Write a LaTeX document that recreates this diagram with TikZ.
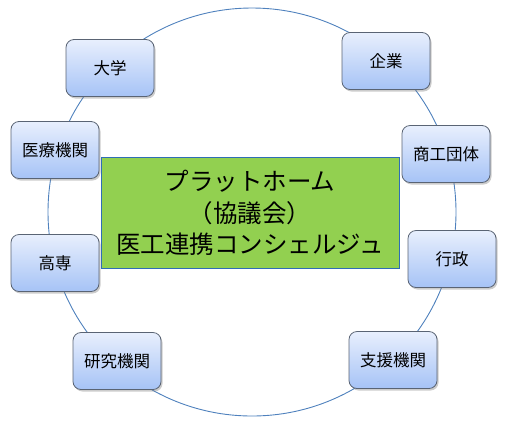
\documentclass[tikz,border=0pt]{standalone}
\usepackage{fontspec}
\newfontfamily\jpfont{Noto Sans CJK JP}
\usetikzlibrary{shadows}

\definecolor{ringblue}{HTML}{4F81BD}
\definecolor{boxtop}{HTML}{E8EFFD}
\definecolor{boxbottom}{HTML}{A6C3F6}
\definecolor{boxedge}{HTML}{5A6474}
\definecolor{platgreen}{HTML}{92D050}
\definecolor{platedge}{HTML}{2F6DB5}

\tikzset{
  member/.style={draw=boxedge, line width=0.8pt, rounded corners=8pt,
    top color=boxtop, bottom color=boxbottom,
    minimum width=88pt, minimum height=57pt,
    drop shadow={shadow xshift=1.5pt, shadow yshift=-2pt, opacity=0.4},
    font=\jpfont\fontsize{16.5}{19}\selectfont},
  platform/.style={draw=platedge, line width=0.8pt, fill=platgreen,
    minimum width=298pt, minimum height=111pt, align=center,
    font=\jpfont\fontsize{24.5}{31.5}\selectfont}
}

\begin{document}
\begin{tikzpicture}[x=1pt,y=-1pt]
  \useasboundingbox (0,0) rectangle (505,424);
  % ring behind the members
  \coordinate (mid) at (252,212);
  \draw[ringblue, line width=0.9pt] (mid) circle (204pt);

  % platform in the middle
  \node[platform] (platform) at (250,213)
    {プラットホーム\\（協議会）\\医工連携コンシェルジュ};

  % members round the ring
  \node[member] (daigaku) at (110,68) {大学};
  \node[member] (kigyo) at (386,61) {企業};
  \node[member] (iryo) at (55,150) {医療機関};
  \node[member] (shoko) at (446,154) {商工団体};
  \node[member] (kosen) at (55,263) {高専};
  \node[member] (gyosei) at (452,259) {行政};
  \node[member] (kenkyu) at (117,361) {研究機関};
  \node[member] (shien) at (393,360) {支援機関};
\end{tikzpicture}
\end{document}
